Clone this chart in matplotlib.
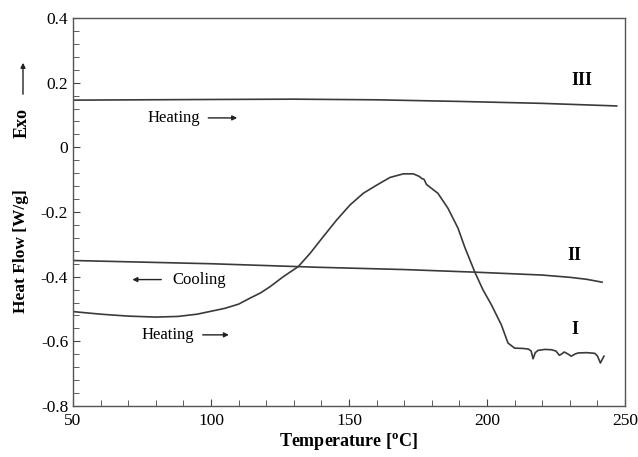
import numpy as np
import matplotlib.pyplot as plt
from matplotlib.patches import FancyArrowPatch
from matplotlib.ticker import MultipleLocator

# DSC traces: temperature [C] vs heat flow [W/g]
temp_I = [50, 60, 70, 80, 88, 95, 100, 105, 110, 114, 118, 121.4, 126.2, 131.6,
          135.9, 140.7, 145.5, 150.4, 155.2, 160, 164.9, 169.7, 173.3, 175.5,
          176.3, 177.2, 178.1, 182.2, 185.9, 189.5, 192, 195.5, 198.5, 201.6,
          205.2, 207.6, 210, 213, 215, 216, 216.7, 217.5, 218.5, 221, 223.3, 225,
          226.2, 226.9, 228, 229.5, 230.5, 232, 233, 236, 239, 240, 241.1, 241.8,
          242.4]
flow_I = [-0.508, -0.516, -0.522, -0.525, -0.523, -0.516, -0.507, -0.498, -0.485,
          -0.467, -0.450, -0.431, -0.400, -0.369, -0.328, -0.276, -0.225, -0.178,
          -0.142, -0.117, -0.093, -0.082, -0.082, -0.090, -0.096, -0.099, -0.115,
          -0.142, -0.189, -0.250, -0.310, -0.384, -0.440, -0.487, -0.549, -0.605,
          -0.621, -0.622, -0.624, -0.630, -0.654, -0.635, -0.628, -0.625, -0.626,
          -0.630, -0.643, -0.640, -0.633, -0.640, -0.646, -0.639, -0.636, -0.635,
          -0.637, -0.645, -0.667, -0.655, -0.646]

temp_II = [50, 100, 139, 170, 195.5, 220, 230, 236, 241.7]
flow_II = [-0.350, -0.360, -0.371, -0.378, -0.386, -0.395, -0.402, -0.408, -0.417]

temp_III = [50, 100, 130, 160, 190, 220, 247]
flow_III = [0.146, 0.148, 0.149, 0.147, 0.142, 0.136, 0.128]

plt.rcParams['font.family'] = ['Liberation Serif', 'DejaVu Serif']

fig = plt.figure(figsize=(6.38, 4.57), dpi=100)
ax = fig.add_axes([0.1144, 0.1116, 0.8652, 0.849])

line_kw = dict(color='#3a3a3a', linewidth=1.2)
ax.plot(temp_I, flow_I, **line_kw)
ax.plot(temp_II, flow_II, **line_kw)
ax.plot(temp_III, flow_III, **line_kw)

ax.set_xlim(50, 250)
ax.set_ylim(-0.8, 0.4)
ax.xaxis.set_major_locator(MultipleLocator(50))
ax.xaxis.set_minor_locator(MultipleLocator(10))
ax.yaxis.set_minor_locator(MultipleLocator(0.04))
ax.set_yticks([0.4, 0.2, 0, -0.2, -0.4, -0.6, -0.8])
ax.set_yticklabels(['0.4', '0.2', '0', '-0.2', '-0.4', '-0.6', '-0.8'])
ax.tick_params(which='both', direction='in', labelsize=12.5, color='#444444',
               top=False, right=False)
ax.tick_params(which='major', length=5)
ax.tick_params(which='minor', length=4)
ax.tick_params(axis='x', pad=5)
for sp in ax.spines.values():
    sp.set_color('#555555')
    sp.set_linewidth(1.0)

ax.set_xlabel('Temperature [$^{\\mathregular{o}}$C]', fontsize=13,
              fontweight='bold', labelpad=2)

# curve labels
ax.text(234.5, 0.208, 'III', fontsize=13, fontweight='bold', ha='center', va='center')
ax.text(231.5, -0.336, 'II', fontsize=13, fontweight='bold', ha='center', va='center')
ax.text(232, -0.564, 'I', fontsize=13, fontweight='bold', ha='center', va='center')

arrow_kw = dict(arrowstyle='-|>', color='#222222', lw=1.0, mutation_scale=7)
ax.text(77, 0.091, 'Heating', fontsize=12, ha='left', va='center')
ax.annotate('', xy=(110.5, 0.091), xytext=(98, 0.091), arrowprops=arrow_kw)

ax.text(86, -0.409, 'Cooling', fontsize=12, ha='left', va='center')
ax.annotate('', xy=(70.5, -0.409), xytext=(83, -0.409), arrowprops=arrow_kw)

ax.text(75, -0.58, 'Heating', fontsize=12, ha='left', va='center')
ax.annotate('', xy=(107.5, -0.58), xytext=(96, -0.58), arrowprops=arrow_kw)

# y label with exotherm direction
fig.text(21 / 638, 1 - 251 / 457, 'Heat Flow [W/g]', rotation=90, fontsize=12.5,
         fontweight='bold', ha='center', va='center')
fig.text(22 / 638, 1 - 123 / 457, 'Exo', rotation=90, fontsize=13,
         fontweight='bold', ha='center', va='center')
fig.add_artist(FancyArrowPatch(
    (23 / 638, 1 - 97 / 457), (23 / 638, 1 - 60 / 457),
    transform=fig.transFigure, arrowstyle='-|>', mutation_scale=7,
    color='#222222', lw=1.0))

fig.savefig('out.png', dpi=100)
